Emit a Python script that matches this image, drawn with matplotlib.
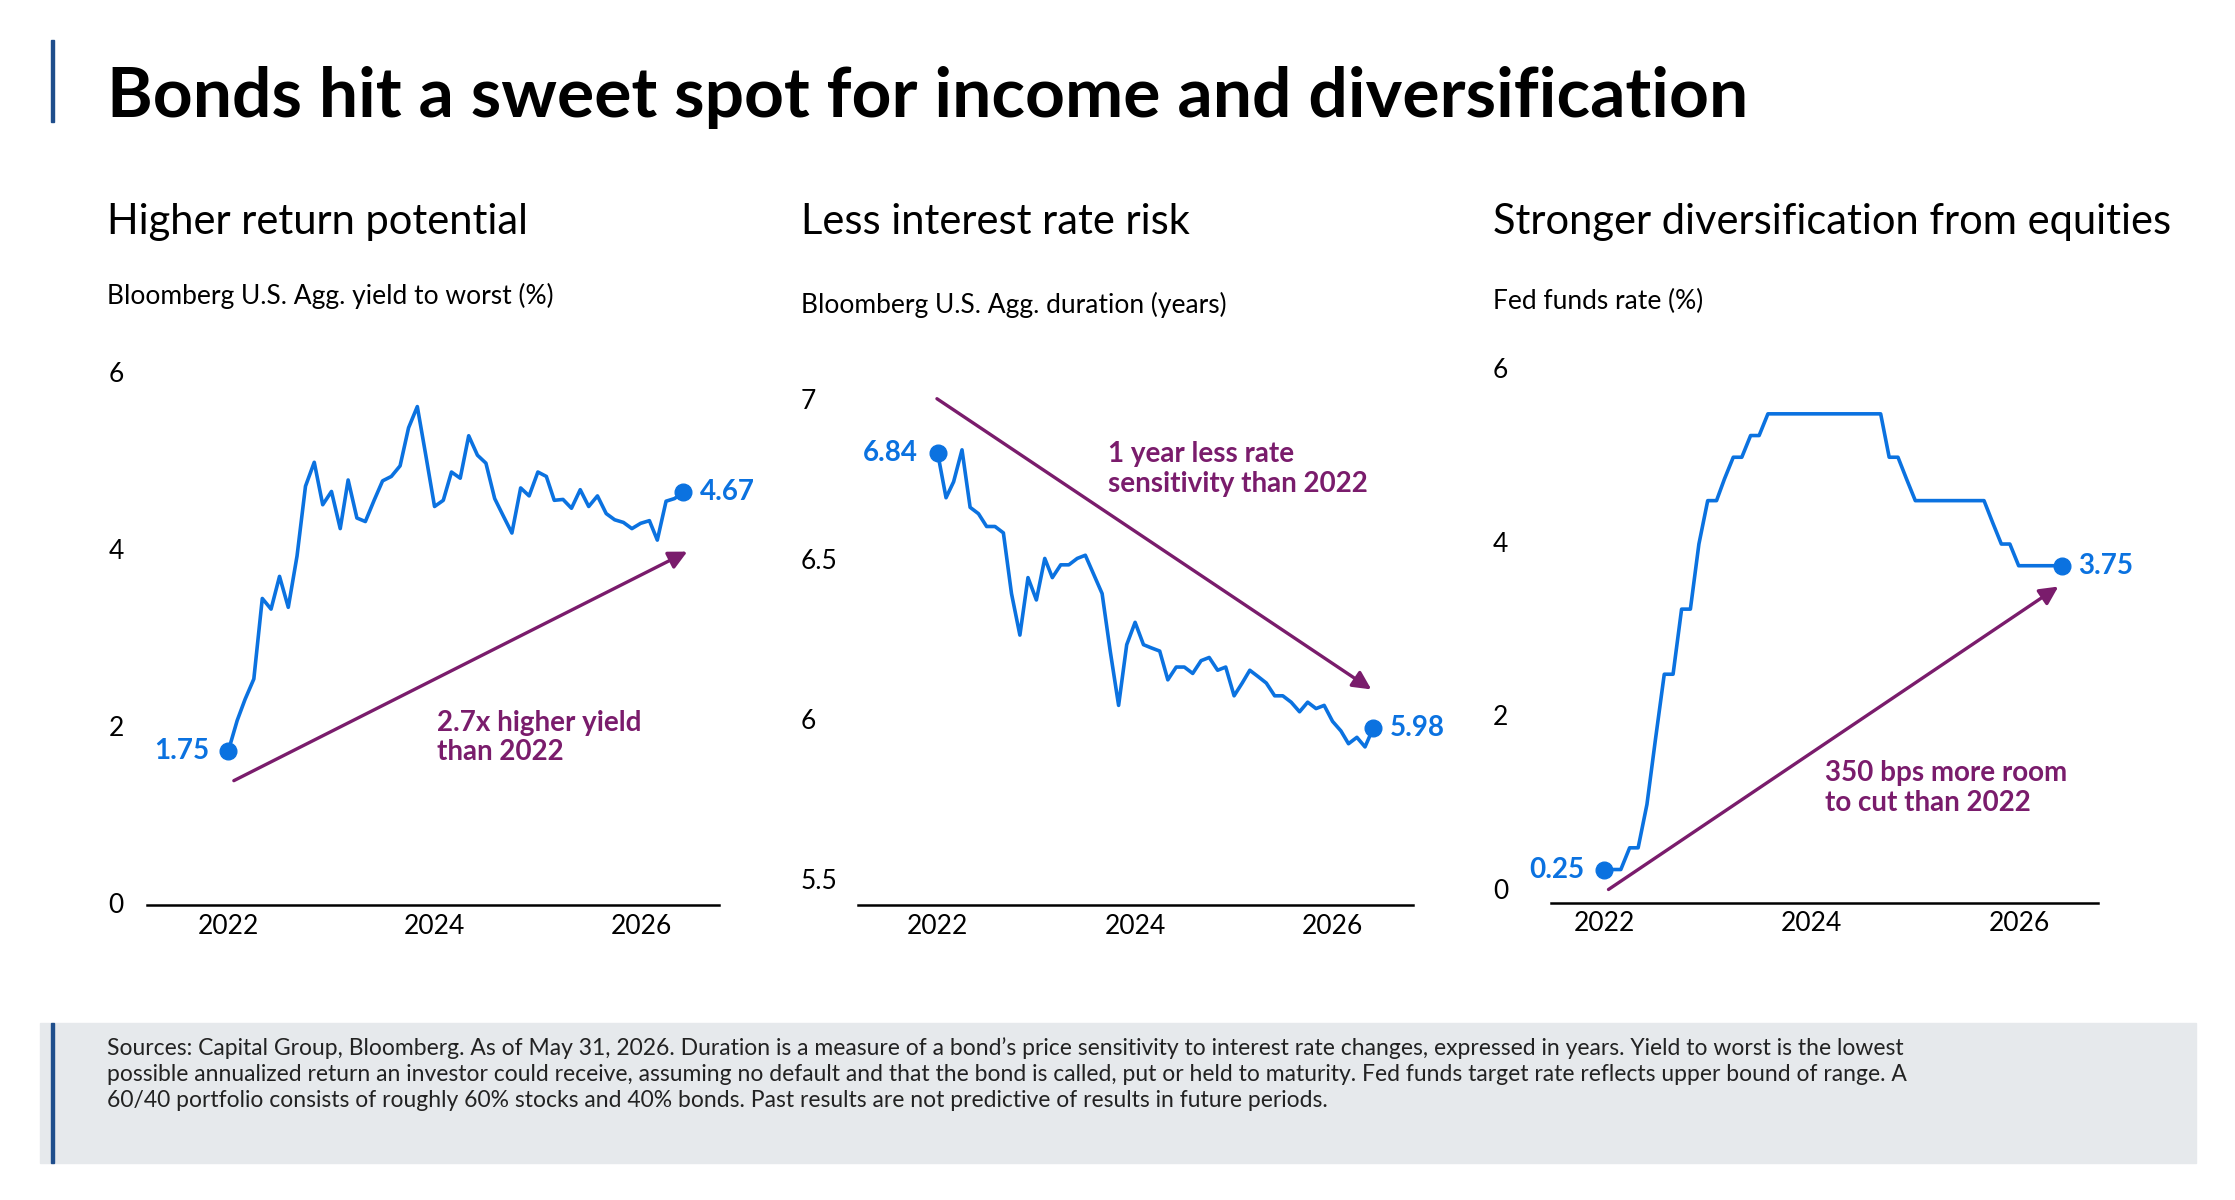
import numpy as np
import pandas as pd
import matplotlib
matplotlib.use("Agg")
import matplotlib.pyplot as plt
from matplotlib.transforms import blended_transform_factory as btf

plt.rcParams['font.family'] = ['Lato', 'DejaVu Sans']

dates = pd.date_range("2021-12-31", periods=54, freq="ME")
xyears = dates.year + (dates.dayofyear - 1) / 365.0

yield_tw = [1.75, 2.09, 2.33, 2.56, 3.47, 3.35, 3.72, 3.37, 3.95, 4.74, 5.01, 4.53, 4.68, 4.26,
            4.81, 4.38, 4.34, 4.58, 4.80, 4.85, 4.97, 5.40, 5.64, 5.09, 4.51, 4.58, 4.90, 4.83,
            5.31, 5.09, 5.00, 4.60, 4.40, 4.21, 4.72, 4.63, 4.90, 4.85, 4.58, 4.59, 4.49, 4.70,
            4.51, 4.63, 4.43, 4.36, 4.33, 4.26, 4.32, 4.35, 4.13, 4.57, 4.60, 4.67]
duration = [6.84, 6.70, 6.75, 6.85, 6.67, 6.65, 6.61, 6.61, 6.59, 6.40, 6.27, 6.45, 6.38, 6.51,
            6.45, 6.49, 6.49, 6.51, 6.52, 6.46, 6.40, 6.22, 6.05, 6.24, 6.31, 6.24, 6.23, 6.22,
            6.13, 6.17, 6.17, 6.15, 6.19, 6.20, 6.16, 6.17, 6.08, 6.12, 6.16, 6.14, 6.12, 6.08,
            6.08, 6.06, 6.03, 6.06, 6.04, 6.05, 6.00, 5.97, 5.93, 5.95, 5.92, 5.98]
fedfunds = [0.25, 0.25, 0.25, 0.50, 0.50, 1.00, 1.75, 2.50, 2.50, 3.25, 3.25, 4.00, 4.50, 4.50,
            4.75, 5.00, 5.00, 5.25, 5.25, 5.50, 5.50, 5.50, 5.50, 5.50, 5.50, 5.50, 5.50, 5.50,
            5.50, 5.50, 5.50, 5.50, 5.50, 5.00, 5.00, 4.75, 4.50, 4.50, 4.50, 4.50, 4.50, 4.50,
            4.50, 4.50, 4.50, 4.25, 4.00, 4.00, 3.75, 3.75, 3.75, 3.75, 3.75, 3.75]

xticks = [2022, 2024, 2026]
panel_titles = ["Higher return potential", "Less interest rate risk", "Stronger diversification from equities"]
panel_subs = ["Bloomberg U.S. Agg. yield to worst (%)", "Bloomberg U.S. Agg. duration (years)", "Fed funds rate (%)"]
yticks_list = [[0, 2, 4, 6], [5.5, 6, 6.5, 7], [0, 2, 4, 6]]
ytick_labels = [["0", "2", "4", "6"], ["5.5", "6", "6.5", "7"], ["0", "2", "4", "6"]]
callouts = ["2.7x higher yield\nthan 2022", "1 year less rate\nsensitivity than 2022", "350 bps more room\nto cut than 2022"]
start_labels = ["1.75", "6.84", "0.25"]
end_labels = ["4.67", "5.98", "3.75"]
arrows = [((2022.05, 1.41), (2026.45, 4.0)), ((2021.99, 7.01), (2026.39, 6.10)), ((2022.04, 0.02), (2026.38, 3.51))]
callout_pos = [(2024.02, 1.9), (2023.72, 6.79), (2024.13, 1.19)]

BLUE = "#0B72E0"
PURPLE = "#7A1C6C"
W, H = 1563, 839

fig = plt.figure(figsize=(22.35, 12), dpi=100)
fig.patches.append(plt.Rectangle((36/W, 1-85/H), 1.5/W, 57/H, transform=fig.transFigure, color="#1F4E8C"))
fig.text(75/W, 1-68/H, "Bonds hit a sweet spot for income and diversification", fontsize=50,
         fontweight="bold", va="center", ha="left", color="black")

# layout: (left, right, axis_y, top_y, ylim, xlim, title_x, sub_y, ylabel_x)
layouts = [
    (103, 503, 633, 262, (0, 6), (2021.21, 2026.76), 75, 207, 76),
    (600, 988, 633, 281, (5.424, 7.0), (2021.19, 2026.81), 560, 213, 560),
    (1085, 1467, 631, 259, (-0.13, 6), (2021.49, 2026.76), 1044, 211, 1044),
]
series = [yield_tw, duration, fedfunds]

for i, (l, r, by, ty, ylim, xlim, tx, sy, ylx) in enumerate(layouts):
    ax = fig.add_axes([l/W, 1-by/H, (r-l)/W, (by-ty)/H])
    vals = series[i]
    ax.plot(xyears, vals, color=BLUE, lw=2.6, clip_on=False, zorder=3)
    ax.plot([xyears[0], xyears[-1]], [vals[0], vals[-1]], "o", color=BLUE, ms=12, clip_on=False, zorder=4)
    ax.set_ylim(*ylim)
    ax.set_xlim(*xlim)
    for s in ["top", "right", "left"]:
        ax.spines[s].set_visible(False)
    ax.spines["bottom"].set_linewidth(1.8)
    ax.set_yticks([])
    ax.set_xticks(xticks)
    ax.set_xticklabels([str(t) for t in xticks], fontsize=19)
    ax.tick_params(axis="x", length=0, pad=6)
    tr = btf(fig.transFigure, ax.transData)
    for yv, yl in zip(yticks_list[i], ytick_labels[i]):
        ax.text(ylx/W, yv, yl, transform=tr, fontsize=19, ha="left", va="center")
    yr = ylim[1] - ylim[0]
    ax.annotate(start_labels[i], (xyears[0], vals[0]), xytext=(-14, 0), textcoords="offset points",
                ha="right", va="center", color=BLUE, fontsize=20, fontweight="bold")
    ax.annotate(end_labels[i], (xyears[-1], vals[-1]), xytext=(12, 0), textcoords="offset points",
                ha="left", va="center", color=BLUE, fontsize=20, fontweight="bold")
    (x0, y0), (x1, y1) = arrows[i]
    ax.annotate("", xy=(x1, y1), xytext=(x0, y0),
                arrowprops=dict(arrowstyle="-|>,head_length=1.1,head_width=0.55", color=PURPLE, lw=2.4,
                                shrinkA=0, shrinkB=0), annotation_clip=False)
    cx, cy = callout_pos[i]
    ax.text(cx, cy, callouts[i], color=PURPLE, fontsize=20, fontweight="bold", ha="left", va="center",
            linespacing=1.15)
    fig.text(tx/W, 1-155/H, panel_titles[i], fontsize=30, ha="left", va="center")
    fig.text(tx/W, 1-sy/H, panel_subs[i], fontsize=19, ha="left", va="center")

# footer
fig.patches.append(plt.Rectangle((28/W, 1-813/H), 1508/W, 98/H, transform=fig.transFigure,
                                 color="#E6E9EC", zorder=0))
fig.patches.append(plt.Rectangle((36/W, 1-813/H), 1.5/W, 98/H, transform=fig.transFigure,
                                 color="#1F4E8C", zorder=1))
footer = ("Sources: Capital Group, Bloomberg. As of May 31, 2026. Duration is a measure of a bond\u2019s price sensitivity to interest rate changes, expressed in years. Yield to worst is the lowest\n"
          "possible annualized return an investor could receive, assuming no default and that the bond is called, put or held to maturity. Fed funds target rate reflects upper bound of range. A\n"
          "60/40 portfolio consists of roughly 60% stocks and 40% bonds. Past results are not predictive of results in future periods.")
fig.text(75/W, 1-725/H, footer, fontsize=16.5, ha="left", va="top", linespacing=1.3, color="#222222")

fig.savefig("out.png", dpi=100)
